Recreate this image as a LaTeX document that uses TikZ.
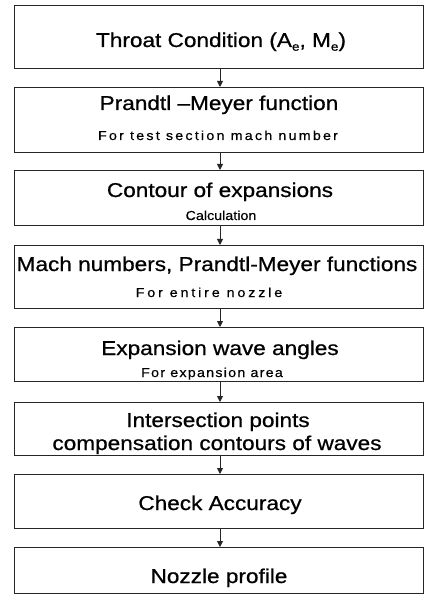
\documentclass[tikz,border=0pt]{standalone}
\usepackage{fontspec}
\setmainfont{Liberation Sans}
\newfontfamily\hdfont[FakeStretch=1.13,FakeBold=0.7]{Liberation Sans}
\newfontfamily\subfonta[FakeStretch=1.1,LetterSpace=17,FakeBold=0.4]{Liberation Sans}
\newfontfamily\subfontb[FakeStretch=1.1,LetterSpace=0,FakeBold=0.4]{Liberation Sans}
\newfontfamily\subfontc[FakeStretch=1.1,LetterSpace=22,FakeBold=0.4]{Liberation Sans}
\newfontfamily\subfontd[FakeStretch=1.1,LetterSpace=9.5,FakeBold=0.4]{Liberation Sans}
\usetikzlibrary{arrows.meta}
\newcommand\lowsub[1]{\raisebox{-0.35ex}{\fontsize{12}{12}\selectfont #1}}
\begin{document}
\begin{tikzpicture}[x=1pt,y=-1pt,
 box/.style={draw=black!85, line width=0.9pt, minimum width=409pt, inner sep=0pt, outer sep=0pt},
 hd/.style={anchor=base, inner sep=0pt, font=\hdfont\fontsize{20}{24}\selectfont},
 suba/.style={anchor=base, inner sep=0pt, font=\subfonta\fontsize{13}{15}\selectfont},
 subb/.style={anchor=base, inner sep=0pt, font=\subfontb\fontsize{13}{15}\selectfont},
 subc/.style={anchor=base, inner sep=0pt, font=\subfontc\fontsize{13}{15}\selectfont},
 subd/.style={anchor=base, inner sep=0pt, font=\subfontd\fontsize{13}{15}\selectfont},
 arr/.style={draw=black!85, line width=0.9pt, -{Triangle[length=6pt,width=6pt]}}]
\useasboundingbox (0,0) rectangle (424,601);
\fill[white] (0,0) rectangle (424,601);

% boxes
\node[box, minimum height=63pt] (b1) at (218.5,36.5) {};
\node[box, minimum height=65pt] (b2) at (218.5,119.5) {};
\node[box, minimum height=55pt] (b3) at (218.5,197.5) {};
\node[box, minimum height=63pt] (b4) at (218.5,276.5) {};
\node[box, minimum height=54pt] (b5) at (218.5,354) {};
\node[box, minimum height=53pt] (b6) at (218.5,428.5) {};
\node[box, minimum height=54pt] (b7) at (218.5,501) {};
\node[box, minimum height=46pt] (b8) at (218.5,570) {};

% texts
\node[hd] (t1) at (221,47) {Throat Condition (A\lowsub{e}, M\lowsub{e})};
\node[hd] (t2) at (219,110) {Prandtl \textendash Meyer function};
\node[suba] (s2) at (218,140) {For test section mach number};
\node[hd] (t3) at (220,197) {Contour of expansions};
\node[subb] (s3) at (221,220) {Calculation};
\node[hd] (t4) at (217,271) {Mach numbers, Prandtl-Meyer functions};
\node[subc] (s4) at (209,297) {For entire nozzle};
\node[hd] (t5) at (220,355) {Expansion wave angles};
\node[subd] (s5) at (212,377) {For expansion area};
\node[hd] (t6) at (218,427) {Intersection points};
\node[hd] (t6b) at (217,450) {compensation contours of waves};
\node[hd] (t7) at (220,510) {Check Accuracy};
\node[hd] (t8) at (219,583) {Nozzle profile};

% arrows
\draw[arr] ([xshift=1.5pt]b1.south) -- ([xshift=1.5pt]b2.north);
\draw[arr] ([xshift=1.5pt]b2.south) -- ([xshift=1.5pt]b3.north);
\draw[arr] ([xshift=1.5pt]b3.south) -- ([xshift=1.5pt]b4.north);
\draw[arr] ([xshift=1.5pt]b4.south) -- ([xshift=1.5pt]b5.north);
\draw[arr] ([xshift=1.5pt]b5.south) -- ([xshift=1.5pt]b6.north);
\draw[arr] ([xshift=1.5pt]b6.south) -- ([xshift=1.5pt]b7.north);
\draw[arr] ([xshift=1.5pt]b7.south) -- ([xshift=1.5pt]b8.north);
\end{tikzpicture}
\end{document}
